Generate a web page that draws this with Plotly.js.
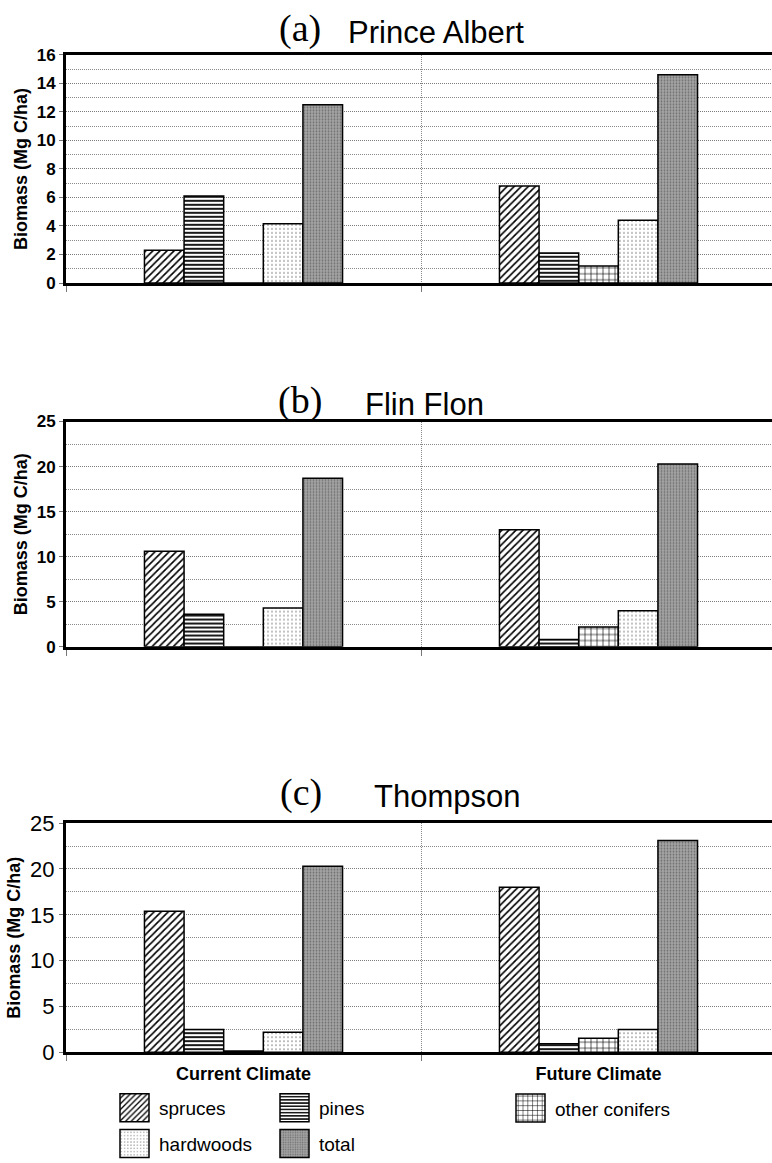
<!DOCTYPE html>
<html>
<head>
<meta charset="utf-8">
<script src="https://cdn.plot.ly/plotly-3.0.1.min.js"></script>
<style>html,body{margin:0;padding:0;overflow:hidden;background:#fff;}</style>
</head>
<body>
<div id="chart"></div>
<script>
// ---- data ----
var categories = ["Current Climate", "Future Climate"];
var groups = ["spruces", "pines", "other conifers", "hardwoods", "total"];

// (a) Prince Albert
var pa_spruces = [2.3, 6.8];
var pa_pines   = [6.1, 2.1];
var pa_other   = [0.0, 1.2];
var pa_hard    = [4.15, 4.4];
var pa_total   = [12.5, 14.6];

// (b) Flin Flon
var ff_spruces = [10.6, 13.0];
var ff_pines   = [3.6, 0.8];
var ff_other   = [0.0, 2.2];
var ff_hard    = [4.3, 4.0];
var ff_total   = [18.7, 20.3];

// (c) Thompson
var th_spruces = [15.4, 18.0];
var th_pines   = [2.5, 0.95];
var th_other   = [0.15, 1.55];
var th_hard    = [2.2, 2.5];
var th_total   = [20.3, 23.1];

var panelLetters = ["(a)", "(b)", "(c)"];
var panelNames = ["Prince Albert", "Flin Flon", "Thompson"];
var yTitle = "Biomass (Mg C/ha)";

// ---- styles ----
var SANS = "Liberation Sans, Arial, sans-serif";
var SERIF = "Liberation Serif, Times New Roman, serif";
var patterns = [
  {shape: "/", size: 5, solidity: 0.33, fgcolor: "#000", bgcolor: "#fff"},
  {shape: "-", size: 4, solidity: 0.45, fgcolor: "#000", bgcolor: "#fff"},
  {shape: "+", size: 6, solidity: 0.2, fgcolor: "#000", bgcolor: "#fff"},
  {shape: ".", size: 4, solidity: 0.15, fgcolor: "#888", bgcolor: "#fff"},
  {shape: ".", size: 3, solidity: 0.28, fgcolor: "#6e6e6e", bgcolor: "#a4a4a4"}
];
var legendIds = ["legend", "legend2", "legend3", "legend", "legend2"];

var panelData = [
  [pa_spruces, pa_pines, pa_other, pa_hard, pa_total],
  [ff_spruces, ff_pines, ff_other, ff_hard, ff_total],
  [th_spruces, th_pines, th_other, th_hard, th_total]
];

var traces = [];
panelData.forEach(function(series, p) {
  series.forEach(function(vals, i) {
    traces.push({
      type: "bar",
      x: categories,
      y: vals,
      name: groups[i],
      xaxis: p === 0 ? "x" : "x" + (p + 1),
      yaxis: p === 0 ? "y" : "y" + (p + 1),
      showlegend: p === 0,
      legend: legendIds[i],
      legendgroup: groups[i],
      marker: {
        color: patterns[i].bgcolor,
        line: {color: "#000", width: 1.5},
        pattern: patterns[i]
      },
      hoverinfo: "x+y+name"
    });
  });
});

// plot area vertical positions in px (page height 1163)
var H = 1163, W = 776, ML = 66;
var PW = W - ML;
var pxTop = [55, 423, 826];
var pxBot = [284, 649, 1056];
var yMax = [16, 25, 25];
var yDtick = [2, 5, 5];
var yMinor = [1, 2.5, 2.5];

function legendBox(xpx) {
  return {
    orientation: "v",
    x: (xpx - ML) / PW, xanchor: "left",
    y: 1 - 1093 / H, yanchor: "top",
    font: {family: SANS, size: 19, color: "#000"},
    bgcolor: "rgba(0,0,0,0)",
    borderwidth: 0,
    tracegroupgap: 8,
    traceorder: "grouped"
  };
}

var layout = {
  width: W,
  height: H,
  margin: {l: ML, r: 0, t: 0, b: 0},
  paper_bgcolor: "#fff",
  plot_bgcolor: "#fff",
  barmode: "group",
  bargap: 0.442,
  bargroupgap: 0,
  font: {family: SANS, color: "#000"},
  showlegend: true,
  legend: legendBox(119),
  legend2: legendBox(279),
  legend3: legendBox(515),
  annotations: [],
  shapes: []
};

var titleCenterY = [31, 404, 797];
var letterX = [300, 300, 301];
var nameX = [436, 424, 447];

for (var p = 0; p < 3; p++) {
  var xa = p === 0 ? "xaxis" : "xaxis" + (p + 1);
  var ya = p === 0 ? "yaxis" : "yaxis" + (p + 1);
  var isLast = p === 2;
  layout[xa] = {
    type: "category",
    domain: [0, 1],
    anchor: p === 0 ? "y" : "y" + (p + 1),
    tickson: "boundaries",
    showgrid: true,
    gridcolor: "#8a8a8a",
    griddash: "1px,1px",
    gridwidth: 1,
    showline: true,
    mirror: true,
    linecolor: "#000",
    linewidth: 3,
    ticks: "outside",
    ticklen: 6,
    tickcolor: "#777",
    showticklabels: isLast,
    ticklabelstandoff: 3,
    tickfont: {family: SANS, size: 18, color: "#000", weight: 700},
    fixedrange: true
  };
  layout[ya] = {
    domain: [1 - pxBot[p] / H, 1 - pxTop[p] / H],
    anchor: p === 0 ? "x" : "x" + (p + 1),
    range: [0, yMax[p]],
    dtick: yDtick[p],
    tick0: 0,
    showgrid: true,
    gridcolor: "#7a7a7a",
    griddash: "1px,1px",
    gridwidth: 1,
    minor: {dtick: yMinor[p], showgrid: true, gridcolor: "#8a8a8a", griddash: "1px,1px", gridwidth: 1},
    zeroline: false,
    showline: true,
    linecolor: "#000",
    linewidth: 3,
    ticks: "outside",
    ticklen: 4,
    tickcolor: "#777",
    tickfont: isLast ? {family: SANS, size: 22, color: "#000"} : {family: SANS, size: 17, color: "#000", weight: 700},
    title: {text: "<b>" + yTitle + "</b>", font: {family: SANS, size: 18, color: "#000"}, standoff: 5},
    fixedrange: true
  };
  layout.annotations.push({
    xref: "paper", yref: "paper", xanchor: "center", yanchor: "middle",
    x: (letterX[p] - ML) / PW, y: 1 - (titleCenterY[p] - 2) / H,
    text: panelLetters[p], showarrow: false,
    font: {family: SERIF, size: 38, color: "#000"}
  });
  layout.annotations.push({
    xref: "paper", yref: "paper", xanchor: "center", yanchor: "middle",
    x: (nameX[p] - ML) / PW, y: 1 - (titleCenterY[p] + 2) / H,
    text: panelNames[p], showarrow: false,
    font: {family: SANS, size: 31, color: "#000"}
  });
}

Plotly.newPlot("chart", traces, layout, {displayModeBar: false, staticPlot: true}).then(function(gd) {
  // enlarge the legend swatches to the boxed legend keys of the original
  var pts = gd.querySelectorAll("g.legendpoints path");
  pts.forEach(function(el) {
    el.setAttribute("d", "M10,14H-19V-14H10Z");
  });
});
</script>
</body>
</html>
